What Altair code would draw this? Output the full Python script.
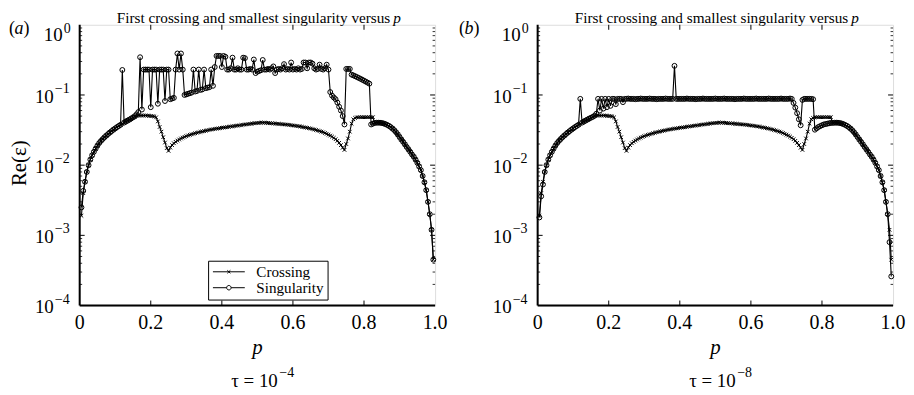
import altair as alt
import pandas as pd

FONT = "Liberation Serif"
W, H = 357, 282

# p grid
P = [
    0.005, 0.010, 0.015, 0.020, 0.025, 0.030, 0.035, 0.040, 0.045, 0.050, 0.055, 0.060, 0.065, 0.070, 0.075, 0.080, 0.085, 0.090, 0.095, 0.100,
    0.105, 0.110, 0.115, 0.120, 0.125, 0.130, 0.135, 0.140, 0.145, 0.150, 0.155, 0.160, 0.165, 0.170, 0.175, 0.180, 0.185, 0.190, 0.195, 0.200,
    0.205, 0.210, 0.215, 0.220, 0.225, 0.230, 0.235, 0.240, 0.245, 0.250, 0.255, 0.260, 0.265, 0.270, 0.275, 0.280, 0.285, 0.290, 0.295, 0.300,
    0.305, 0.310, 0.315, 0.320, 0.325, 0.330, 0.335, 0.340, 0.345, 0.350, 0.355, 0.360, 0.365, 0.370, 0.375, 0.380, 0.385, 0.390, 0.395, 0.400,
    0.405, 0.410, 0.415, 0.420, 0.425, 0.430, 0.435, 0.440, 0.445, 0.450, 0.455, 0.460, 0.465, 0.470, 0.475, 0.480, 0.485, 0.490, 0.495, 0.500,
    0.505, 0.510, 0.515, 0.520, 0.525, 0.530, 0.535, 0.540, 0.545, 0.550, 0.555, 0.560, 0.565, 0.570, 0.575, 0.580, 0.585, 0.590, 0.595, 0.600,
    0.605, 0.610, 0.615, 0.620, 0.625, 0.630, 0.635, 0.640, 0.645, 0.650, 0.655, 0.660, 0.665, 0.670, 0.675, 0.680, 0.685, 0.690, 0.695, 0.700,
    0.705, 0.710, 0.715, 0.720, 0.725, 0.730, 0.735, 0.740, 0.745, 0.750, 0.755, 0.760, 0.765, 0.770, 0.775, 0.780, 0.785, 0.790, 0.795, 0.800,
    0.805, 0.810, 0.815, 0.820, 0.825, 0.830, 0.835, 0.840, 0.845, 0.850, 0.855, 0.860, 0.865, 0.870, 0.875, 0.880, 0.885, 0.890, 0.895, 0.900,
    0.905, 0.910, 0.915, 0.920, 0.925, 0.930, 0.935, 0.940, 0.945, 0.950, 0.955, 0.960, 0.965, 0.970, 0.975, 0.980, 0.985, 0.990, 0.995,
]

# First crossing (same in both panels)
CROSSING = [
    0.0019, 0.0040, 0.0058, 0.0080, 0.0100, 0.0120, 0.0138, 0.0155, 0.0172, 0.0190, 0.0207, 0.0222, 0.0236, 0.0250, 0.0264, 0.0278, 0.0292, 0.0306, 0.0320, 0.0334,
    0.0348, 0.0362, 0.0376, 0.0390, 0.0404, 0.0418, 0.0432, 0.0446, 0.0460, 0.0474, 0.0488, 0.0500, 0.0508, 0.0510, 0.0510, 0.0510, 0.0510, 0.0508, 0.0505, 0.0502,
    0.0500, 0.0495, 0.0480, 0.0420, 0.0350, 0.0300, 0.0250, 0.0210, 0.0175, 0.0160, 0.0178, 0.0193, 0.0205, 0.0215, 0.0224, 0.0232, 0.0240, 0.0247, 0.0253, 0.0259,
    0.0265, 0.0270, 0.0275, 0.0280, 0.0285, 0.0290, 0.0294, 0.0298, 0.0302, 0.0306, 0.0310, 0.0314, 0.0318, 0.0322, 0.0325, 0.0328, 0.0331, 0.0334, 0.0337, 0.0340,
    0.0343, 0.0346, 0.0349, 0.0352, 0.0355, 0.0358, 0.0361, 0.0364, 0.0367, 0.0370, 0.0373, 0.0376, 0.0379, 0.0382, 0.0385, 0.0388, 0.0391, 0.0394, 0.0397, 0.0399,
    0.0401, 0.0403, 0.0404, 0.0403, 0.0401, 0.0399, 0.0397, 0.0395, 0.0393, 0.0391, 0.0389, 0.0387, 0.0385, 0.0383, 0.0381, 0.0379, 0.0377, 0.0374, 0.0371, 0.0368,
    0.0365, 0.0362, 0.0359, 0.0356, 0.0352, 0.0348, 0.0344, 0.0340, 0.0336, 0.0332, 0.0327, 0.0322, 0.0317, 0.0312, 0.0306, 0.0300, 0.0294, 0.0287, 0.0280, 0.0272,
    0.0264, 0.0255, 0.0245, 0.0234, 0.0222, 0.0208, 0.0193, 0.0177, 0.0165, 0.0200, 0.0240, 0.0300, 0.0390, 0.0450, 0.0470, 0.0480, 0.0482, 0.0482, 0.0482, 0.0482,
    0.0482, 0.0482, 0.0482, 0.0482, 0.0482, 0.0400, 0.0402, 0.0403, 0.0402, 0.0399, 0.0393, 0.0385, 0.0375, 0.0363, 0.0349, 0.0333, 0.0315, 0.0295, 0.0274, 0.0252,
    0.0232, 0.0215, 0.0198, 0.0182, 0.0168, 0.0155, 0.0142, 0.0132, 0.0120, 0.0108, 0.0096, 0.0085, 0.0070, 0.0057, 0.0044, 0.0030, 0.0020, 0.0012, 0.00045,
]

# Smallest singularity, tau = 1e-4
SING_A = [
    0.0025, 0.0043, 0.0058, 0.0080, 0.0100, 0.0120, 0.0138, 0.0155, 0.0172, 0.0190, 0.0207, 0.0222, 0.0236, 0.0250, 0.0264, 0.0278, 0.0292, 0.0306, 0.0320, 0.0334,
    0.0348, 0.0362, 0.0376, 0.227, 0.0404, 0.0418, 0.0432, 0.0446, 0.0462, 0.0480, 0.0500, 0.0530, 0.0570, 0.345, 0.062, 0.23, 0.23, 0.23, 0.23, 0.067,
    0.23, 0.23, 0.23, 0.075, 0.23, 0.23, 0.23, 0.082, 0.23, 0.23, 0.087, 0.089, 0.091, 0.23, 0.39, 0.23, 0.39, 0.23, 0.100, 0.102,
    0.104, 0.106, 0.108, 0.23, 0.112, 0.114, 0.23, 0.118, 0.120, 0.23, 0.125, 0.127, 0.129, 0.23, 0.135, 0.25, 0.36, 0.36, 0.36, 0.25,
    0.36, 0.35, 0.23, 0.23, 0.24, 0.34, 0.23, 0.23, 0.24, 0.23, 0.23, 0.34, 0.335, 0.23, 0.23, 0.235, 0.23, 0.32, 0.205, 0.215,
    0.22, 0.225, 0.315, 0.23, 0.23, 0.235, 0.23, 0.24, 0.255, 0.205, 0.23, 0.235, 0.23, 0.24, 0.275, 0.23, 0.235, 0.23, 0.29, 0.23,
    0.235, 0.23, 0.24, 0.23, 0.235, 0.29, 0.29, 0.24, 0.29, 0.29, 0.28, 0.24, 0.23, 0.235, 0.27, 0.235, 0.23, 0.24, 0.27, 0.23,
    0.11, 0.098, 0.092, 0.087, 0.078, 0.068, 0.060, 0.050, 0.038, 0.235, 0.235, 0.235, 0.195, 0.19, 0.185, 0.18, 0.175, 0.17, 0.165, 0.16,
    0.155, 0.15, 0.145, 0.038, 0.039, 0.0400, 0.0402, 0.0403, 0.0402, 0.0399, 0.0393, 0.0385, 0.0375, 0.0363, 0.0349, 0.0333, 0.0315, 0.0295, 0.0274, 0.0252,
    0.0232, 0.0215, 0.0198, 0.0182, 0.0168, 0.0155, 0.0142, 0.0132, 0.0120, 0.0108, 0.0096, 0.0085, 0.0070, 0.0057, 0.0044, 0.0030, 0.0020, 0.0012, 0.00045,
]

# Smallest singularity, tau = 1e-8
SING_B = [
    0.0018, 0.0036, 0.0053, 0.0080, 0.0100, 0.0120, 0.0138, 0.0155, 0.0172, 0.0190, 0.0207, 0.0222, 0.0236, 0.0250, 0.0264, 0.0278, 0.0292, 0.0306, 0.0320, 0.0334,
    0.0348, 0.0362, 0.0376, 0.088, 0.0404, 0.0418, 0.0432, 0.0446, 0.0460, 0.0474, 0.0488, 0.0505, 0.0540, 0.088, 0.060, 0.088, 0.064, 0.088, 0.067, 0.088,
    0.070, 0.088, 0.088, 0.074, 0.088, 0.088, 0.088, 0.079, 0.088, 0.088, 0.089, 0.088, 0.088, 0.088, 0.087, 0.088, 0.088, 0.089, 0.088, 0.088,
    0.088, 0.088, 0.089, 0.088, 0.088, 0.088, 0.087, 0.088, 0.088, 0.088, 0.088, 0.089, 0.088, 0.088, 0.088, 0.088, 0.26, 0.088, 0.088, 0.088,
    0.088, 0.088, 0.088, 0.089, 0.088, 0.088, 0.088, 0.088, 0.087, 0.088, 0.088, 0.088, 0.089, 0.088, 0.088, 0.088, 0.088, 0.088, 0.088, 0.089,
    0.088, 0.088, 0.088, 0.088, 0.089, 0.088, 0.088, 0.088, 0.088, 0.088, 0.087, 0.088, 0.088, 0.088, 0.088, 0.089, 0.088, 0.088, 0.088, 0.088,
    0.088, 0.088, 0.089, 0.088, 0.088, 0.088, 0.088, 0.088, 0.088, 0.089, 0.088, 0.088, 0.088, 0.088, 0.088, 0.088, 0.089, 0.088, 0.088, 0.088,
    0.088, 0.089, 0.088, 0.077, 0.066, 0.055, 0.045, 0.037, 0.085, 0.088, 0.088, 0.088, 0.088, 0.088, 0.087, 0.032, 0.0335, 0.035, 0.036, 0.037,
    0.038, 0.0385, 0.039, 0.0395, 0.040, 0.0400, 0.0402, 0.0403, 0.0402, 0.0399, 0.0393, 0.0385, 0.0375, 0.0363, 0.0349, 0.0333, 0.0315, 0.0295, 0.0274, 0.0252,
    0.0232, 0.0215, 0.0198, 0.0182, 0.0168, 0.0155, 0.0142, 0.0132, 0.0120, 0.0108, 0.0096, 0.0085, 0.0070, 0.0057, 0.0044, 0.0030, 0.0020, 0.0008, 0.00026,
]

SERIES = ["Crossing", "Singularity"]
XTICKS = [0.2, 0.4, 0.6, 0.8]
XLABEL_POS = [0.0, 0.2, 0.4, 0.6, 0.8, 1.0]
XLABELS = ["0", "0.2", "0.4", "0.6", "0.8", "1.0"]
YMAJOR = [1e-3, 1e-2, 1e-1]
YLABEL_POS = [1e-1, 1e-2, 1e-3, 1e-4]
YLABEL_EXP = ["\u22121", "\u22122", "\u22123", "\u22124"]
YMINOR = [2e-4, 3e-4, 4e-4, 5e-4, 6e-4, 7e-4, 8e-4, 9e-4,
          2e-3, 3e-3, 4e-3, 5e-3, 6e-3, 7e-3, 8e-3, 9e-3,
          2e-2, 3e-2, 4e-2, 5e-2, 6e-2, 7e-2, 8e-2, 9e-2,
          2e-1, 3e-1, 4e-1, 5e-1, 6e-1, 7e-1, 8e-1, 9e-1]

TITLE = "First crossing and smallest singularity versus"

XPATH = "M-1,-1L1,1M-1,1L1,-1"
LEG_X = "M-3.2,0L3.2,0M-0.3,-0.3L0.3,0.3M-0.3,0.3L0.3,-0.3"
LEG_O = "M-3.2,0L-0.45,0M0.45,0L3.2,0M-0.45,0A0.45,0.45,0,1,0,0.45,0A0.45,0.45,0,1,0,-0.45,0"

ONE = pd.DataFrame({"k": [0]})


def label(text, x, y, size, align="left", baseline="alphabetic", style="normal", angle=None):
    kw = dict(font=FONT, fontSize=size, align=align, baseline=baseline,
              color="black", fontStyle=style)
    if angle is not None:
        kw["angle"] = angle
    return alt.Chart(ONE).mark_text(**kw).encode(
        x=alt.value(x), y=alt.value(y), text=alt.value(text))


def make_df(sing):
    rows = []
    for p, c, s in zip(P, CROSSING, sing):
        rows.append({"p": p, "v": c, "series": SERIES[0]})
        rows.append({"p": p, "v": s, "series": SERIES[1]})
    return pd.DataFrame(rows)


def panel(sing, letter, letter_x, exp_text, with_legend, with_ytitle):
    df = make_df(sing)
    xs = alt.Scale(domain=[0, 1], nice=False, zero=False)
    ys = alt.Scale(type="log", domain=[1e-4, 1], nice=False)
    X = alt.X("p:Q", scale=xs, axis=None)
    Y = alt.Y("v:Q", scale=ys, axis=None)

    layers = []
    layers.append(alt.Chart(df).mark_line(color="black", strokeWidth=1.1).encode(
        x=X, y=Y, detail="series:N"))
    layers.append(alt.Chart(df).transform_filter("datum.series == 'Singularity'").mark_point(
        shape="circle", size=24, filled=False, color="black", strokeWidth=1, opacity=1
    ).encode(x=X, y=Y))
    layers.append(alt.Chart(df).transform_filter("datum.series == 'Crossing'").mark_point(
        shape=XPATH, size=13, filled=False, color="black", strokeWidth=1, opacity=1
    ).encode(x=X, y=Y))

    # frame: thick left and bottom
    layers.append(alt.Chart(ONE).mark_rule(color="black", strokeWidth=2).encode(
        x=alt.value(0), y=alt.value(0), y2=alt.value(H)))
    layers.append(alt.Chart(ONE).mark_rule(color="black", strokeWidth=2).encode(
        x=alt.value(0), x2=alt.value(W), y=alt.value(H)))

    xt = pd.DataFrame({"t": XTICKS})
    XT = alt.X("t:Q", scale=xs, axis=None)
    layers.append(alt.Chart(xt).mark_rule(color="black", strokeWidth=1).encode(
        x=XT, y=alt.value(H), y2=alt.value(H - 5)))
    layers.append(alt.Chart(xt).mark_rule(color="black", strokeWidth=1).encode(
        x=XT, y=alt.value(0), y2=alt.value(5)))

    ym = pd.DataFrame({"t": YMAJOR})
    YT = alt.Y("t:Q", scale=ys, axis=None)
    layers.append(alt.Chart(ym).mark_rule(color="black", strokeWidth=1).encode(
        y=YT, x=alt.value(0), x2=alt.value(5)))
    layers.append(alt.Chart(ym).mark_rule(color="black", strokeWidth=1).encode(
        y=YT, x=alt.value(W), x2=alt.value(W - 5)))
    yn = pd.DataFrame({"t": YMINOR})
    layers.append(alt.Chart(yn).mark_rule(color="black", strokeWidth=0.8).encode(
        y=YT, x=alt.value(0), x2=alt.value(2.5)))
    layers.append(alt.Chart(yn).mark_rule(color="black", strokeWidth=0.8).encode(
        y=YT, x=alt.value(W), x2=alt.value(W - 2.5)))

    # x tick labels
    xl = pd.DataFrame({"t": XLABEL_POS, "lab": XLABELS})
    layers.append(alt.Chart(xl).mark_text(
        font=FONT, fontSize=20, align="center", baseline="alphabetic", color="black"
    ).encode(x=XT, y=alt.value(306), text="lab:N"))

    # y tick labels 10^k
    yl = pd.DataFrame({"t": YLABEL_POS, "e": YLABEL_EXP})
    layers.append(alt.Chart(yl).mark_text(
        font=FONT, fontSize=19, align="right", baseline="alphabetic", dy=8, color="black"
    ).encode(y=YT, x=alt.value(-26), text=alt.value("10")))
    layers.append(alt.Chart(yl).mark_text(
        font=FONT, fontSize=14, align="left", baseline="alphabetic", dy=-2, color="black"
    ).encode(y=YT, x=alt.value(-25), text="e:N"))
    y0 = pd.DataFrame({"t": [1.0]})
    layers.append(alt.Chart(y0).mark_text(
        font=FONT, fontSize=19, align="right", baseline="alphabetic", dy=16, color="black"
    ).encode(y=YT, x=alt.value(-17), text=alt.value("10")))
    layers.append(alt.Chart(y0).mark_text(
        font=FONT, fontSize=14, align="left", baseline="alphabetic", dy=8, color="black"
    ).encode(y=YT, x=alt.value(-16), text=alt.value("0")))

    # titles and labels
    layers.append(label(TITLE, 312, -2, 15.3, align="right"))
    layers.append(label("p", 315, -2, 15.3, style="italic"))
    layers.append(label("(", letter_x, 9.5, 18))
    layers.append(label(letter, letter_x + 5.5, 9.5, 18, style="italic"))
    layers.append(label(")", letter_x + 14.5, 9.5, 18))
    layers.append(label("p", W / 2, 331, 21, align="center", style="italic"))
    layers.append(label("\u03c4 = 10", 199, 364, 19, align="right"))
    layers.append(label(exp_text, 200.5, 354, 14))
    if with_ytitle:
        layers.append(label("Re(\u03b5)", -60, 139, 21, align="center", baseline="middle", angle=270))

    if with_legend:
        layers.append(alt.Chart(df).transform_filter("false").mark_point(
            filled=False, color="black", strokeWidth=1, opacity=1
        ).encode(
            x=X, y=Y,
            shape=alt.Shape("series:N",
                            scale=alt.Scale(domain=SERIES, range=[LEG_X, LEG_O]),
                            legend=alt.Legend(
                                title=None, orient="none", legendX=129, legendY=237,
                                padding=3.5, rowPadding=0, strokeColor="black",
                                fillColor="white", symbolSize=100, symbolStrokeWidth=1,
                                symbolStrokeColor="black", symbolFillColor="transparent",
                                symbolOffset=9.75, labelOffset=20, labelFont=FONT,
                                labelFontSize=15.2, labelColor="black", labelLimit=300))))

    return alt.layer(*layers).properties(width=W, height=H)


pa = panel(SING_A, "a", -71, "\u22124", True, True)
pb = panel(SING_B, "b", -79, "\u22128", False, False)

chart = alt.hconcat(pa, pb, spacing=103, bounds="flush").properties(
    padding={"left": 0, "top": 1, "right": 0, "bottom": 0}
).configure_view(stroke="black", strokeWidth=1.2).configure_legend(strokeWidth=1.5).configure(
    background="white")

chart.save("out.html", embed_options={"renderer": "svg", "actions": False})
